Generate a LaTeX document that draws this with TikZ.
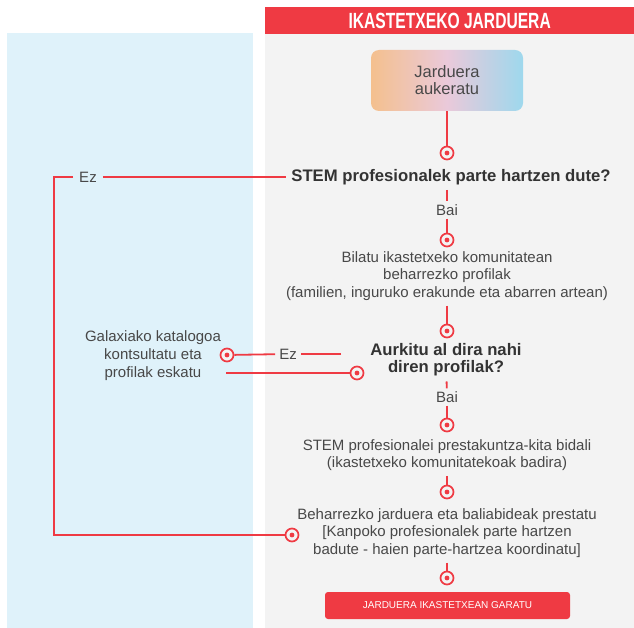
\documentclass[tikz,border=0pt]{standalone}
\usepackage{fontspec}
\setmainfont{Liberation Sans}
\newfontfamily\headfont[FakeStretch=0.71]{Liberation Sans}
\usepackage{xcolor}
\usetikzlibrary{positioning, calc}
\definecolor{flowred}{RGB}{239, 58, 67}
\definecolor{panelblue}{RGB}{223, 242, 250}
\definecolor{panelgray}{RGB}{243, 243, 243}
\definecolor{textgray}{RGB}{72, 72, 72}
\definecolor{startorange}{RGB}{244, 192, 142}
\definecolor{startpink}{RGB}{234, 201, 218}
\definecolor{startblue}{RGB}{158, 216, 237}

\begin{document}
\begin{tikzpicture}[
    x=1pt, y=-1pt,
    txt/.style={align=center, font=\fontsize{15}{17.5}\selectfont, text=textgray, inner sep=5pt},
    question/.style={align=center, font=\fontsize{16.7}{17}\selectfont\bfseries, text=black!80, inner sep=5pt},
    answer/.style={font=\fontsize{15}{17}\selectfont, text=textgray, inner sep=6pt},
    ring/.style={circle, draw=flowred, line width=1.7pt, fill=panelgray, minimum size=13pt, inner sep=0pt,
        path picture={\fill[flowred] (path picture bounding box.center) circle (2.4pt);}},
    link/.style={flowred, line width=1.8pt}
]
\useasboundingbox (0,0) rectangle (634,628);

% Panels
\fill[panelblue] (7,33) rectangle (253,628);
\fill[panelgray] (265,33) rectangle (634,628);
\node[fill=flowred, anchor=north west, minimum width=369pt, minimum height=27pt, inner sep=0pt,
    font=\headfont\bfseries\fontsize{22}{22}\selectfont, text=white] (head) at (265,7) {IKASTETXEKO JARDUERA};

% Main flow
\node[txt, rounded corners=8pt, left color=startorange, right color=startblue, middle color=startpink,
    minimum width=152pt, minimum height=61pt, font=\fontsize{16.5}{17}\selectfont] (start) at (447,80.5) {Jarduera\\aukeratu};
\node[ring] (m1) at (447,153) {};
\node[question] (q1) at (451,177) {STEM profesionalek parte hartzen dute?};
\node[answer, inner sep=3pt] (bai1) at (447,210) {Bai};
\node[ring] (m2) at (447,240) {};
\node[txt] (t1) at (447,276) {Bilatu ikastetxeko komunitatean\\beharrezko profilak\\(familien, inguruko erakunde eta abarren artean)};
\node[ring] (m3) at (447,331) {};
\node[question] (q2) at (446,360) {Aurkitu al dira nahi\\diren profilak?};
\node[answer, inner sep=3pt] (bai2) at (447,397) {Bai};
\node[ring] (m4) at (447,425) {};
\node[txt] (t2) at (447,455) {STEM profesionalei prestakuntza-kita bidali\\(ikastetxeko komunitatekoak badira)};
\node[ring] (m5) at (447,492) {};
\node[txt] (t3) at (447,533) {Beharrezko jarduera eta baliabideak prestatu\\{[}Kanpoko profesionalek parte hartzen\\badute - haien parte-hartzea koordinatu{]}};
\node[ring] (m6) at (292,535) {};
\node[ring] (m9) at (447,578) {};
\node[fill=flowred, rounded corners=3pt, minimum width=245pt, minimum height=27pt, inner sep=0pt,
    font=\fontsize{10}{10}\selectfont, text=white] (done) at (447.5,605.5) {JARDUERA IKASTETXEAN GARATU};

% Side branches
\node[answer] (ezL) at (88,177) {Ez};
\coordinate (cornerL) at (54,177);
\node[answer, inner sep=4pt] (ez2) at (288,354) {Ez};
\node[ring] (m7) at (227,355) {};
\node[txt, font=\fontsize{15}{18}\selectfont] (gal) at (153,356) {Galaxiako katalogoa\\kontsultatu eta\\profilak eskatu};
\node[ring] (m8) at (357,373) {};

% Connectors
\draw[link] (start) -- (m1);
\draw[link] (q1.south -| bai1) -- (bai1);
\draw[link] (bai1) -- (m2);
\draw[link] (t1) -- (m3);
\draw[link] (q2) -- (bai2);
\draw[link] (bai2) -- (m4);
\draw[link] (t2) -- (m5);
\draw[link] (t3) -- (m9);
\draw[link] (ezL) -- (q1.west |- ezL);
\draw[link] (ezL) -- (cornerL) |- (m6);
\draw[link, shorten <=24pt] (q2.west |- ez2) -- (ez2);
\draw[link] (ez2) -- (m7);
\draw[link] (gal.east |- m8) -- (m8);

\end{tikzpicture}
\end{document}
